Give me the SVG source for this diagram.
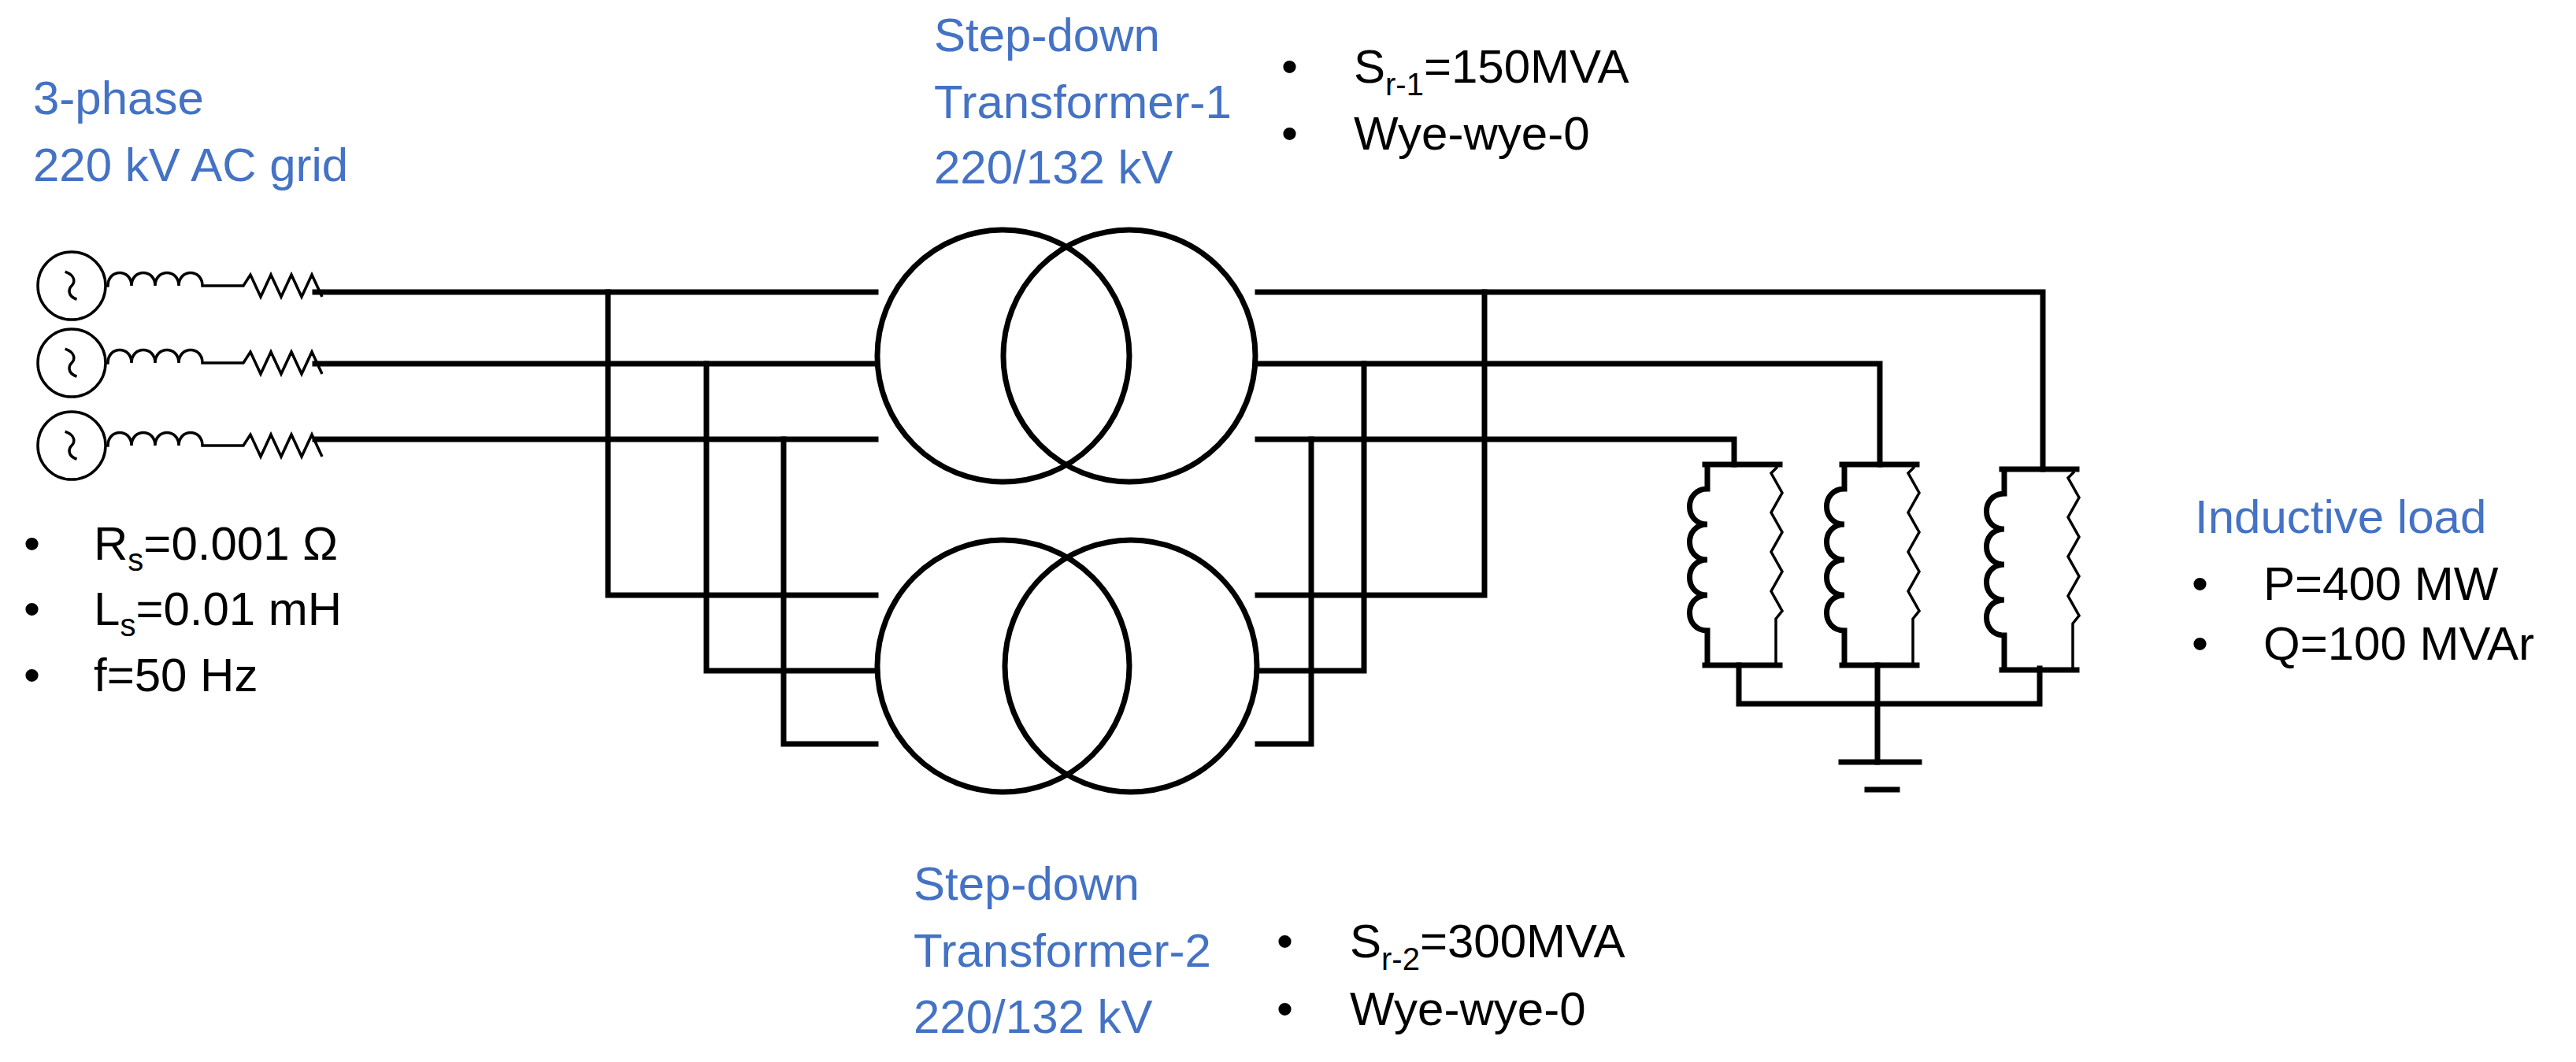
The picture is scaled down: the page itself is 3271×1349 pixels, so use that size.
<svg xmlns="http://www.w3.org/2000/svg" width="3271" height="1349" viewBox="0 0 3271 1349">
<style>
.w{fill:none;stroke:#000;stroke-width:7;stroke-linecap:square}
.t{fill:none;stroke:#000;stroke-width:7}
.th{fill:none;stroke:#000;stroke-width:3.5}
.bl{font-family:"Liberation Sans",Arial,sans-serif;font-size:60px;fill:#4472C4}
.bk{font-family:"Liberation Sans",Arial,sans-serif;font-size:60px;fill:#000}
.sub{font-size:40px}
</style>
<defs>
<g id="src">
<circle cx="0" cy="0" r="43" class="th"/>
<path d="M-14,12 C-14,-2 -4,-2 0,0 S 14,2 14,-14" class="th" transform="rotate(-70)"/>
<path d="M43,0 H46 c0,-22 30,-22 30,0 c0,-22 30,-22 30,0 c0,-22 30,-22 30,0 c0,-22 30,-22 30,0 H218 l9,-14 l13,28 l13,-28 l13,28 l13,-28 l13,28 l13,-28 l13,28" class="th"/>
</g>
<g id="load">
<path d="M-47,0 H48 M-47,255 H48" class="w"/>
<path d="M-44,0 V31 c-30,0 -30,45 0,45 c-30,0 -30,45 0,45 c-30,0 -30,45 0,45 c-30,0 -30,45 0,45 V252" class="t"/>
<path d="M45,3 l-8,8 l14,25 l-14,25 l14,25 l-14,25 l14,25 l-14,25 l14,25 l-8,10 V252" class="th"/>
</g>
</defs>
<g id="sources">
<use href="#src" x="91" y="363"/>
<use href="#src" x="91" y="461"/>
<use href="#src" x="91" y="566"/>
</g>
<g id="transformer1">
<circle cx="1274" cy="452" r="160" class="t"/>
<circle cx="1434" cy="452" r="160" class="t"/>
</g>
<g id="transformer2">
<circle cx="1274" cy="846" r="160" class="t"/>
<circle cx="1436" cy="846" r="160" class="t"/>
</g>
<g id="loads">
<use href="#load" x="2212" y="590"/>
<use href="#load" x="2386" y="590"/>
<use href="#load" x="2589" y="596"/>
</g>
<g id="connectors">
<path d="M400,371 H1112 M400,462 H1112 M400,558 H1112" class="w"/>
<path d="M772,371 V756 H1112 M897,462 V852 H1112 M995,558 V945 H1112" class="w"/>
<path d="M1597,371 H2594 V596 M1597,462 H2387 V590 M1597,558 H2202 V590" class="w"/>
<path d="M1885,371 V756 H1597 M1732,462 V852 H1597 M1665,558 V945 H1597" class="w"/>
<path d="M2208,845 V894 H2590 V849 M2384,845 V968" class="w"/>
<path d="M2338,968 H2437 M2371,1003 H2409" class="w"/>
</g>
<g id="labels">
<text class="bl" x="42" y="145">3-phase</text>
<text class="bl" x="42" y="230">220 kV AC grid</text>
<text class="bk" x="30" y="711">•</text><text class="bk" x="119" y="711">R<tspan class="sub" dy="14">s</tspan><tspan dy="-14">=0.001 Ω</tspan></text>
<text class="bk" x="30" y="794">•</text><text class="bk" x="119" y="794">L<tspan class="sub" dy="14">s</tspan><tspan dy="-14">=0.01 mH</tspan></text>
<text class="bk" x="30" y="878">•</text><text class="bk" x="119" y="878">f=50 Hz</text>
<text class="bl" x="1186" y="65">Step-down</text>
<text class="bl" x="1186" y="150">Transformer-1</text>
<text class="bl" x="1186" y="233">220/132 kV</text>
<text class="bk" x="1627" y="105">•</text><text class="bk" x="1719" y="105">S<tspan class="sub" dy="16">r-1</tspan><tspan dy="-16">=150MVA</tspan></text>
<text class="bk" x="1627" y="190">•</text><text class="bk" x="1719" y="190">Wye-wye-0</text>
<text class="bl" x="1160" y="1143">Step-down</text>
<text class="bl" x="1160" y="1228">Transformer-2</text>
<text class="bl" x="1160" y="1312">220/132 kV</text>
<text class="bk" x="1621" y="1216">•</text><text class="bk" x="1714" y="1216">S<tspan class="sub" dy="16">r-2</tspan><tspan dy="-16">=300MVA</tspan></text>
<text class="bk" x="1621" y="1302">•</text><text class="bk" x="1714" y="1302">Wye-wye-0</text>
<text class="bl" x="2787" y="677">Inductive load</text>
<text class="bk" x="2783" y="762">•</text><text class="bk" x="2874" y="762">P=400 MW</text>
<text class="bk" x="2783" y="838">•</text><text class="bk" x="2874" y="838">Q=100 MVAr</text>
</g>
</svg>
